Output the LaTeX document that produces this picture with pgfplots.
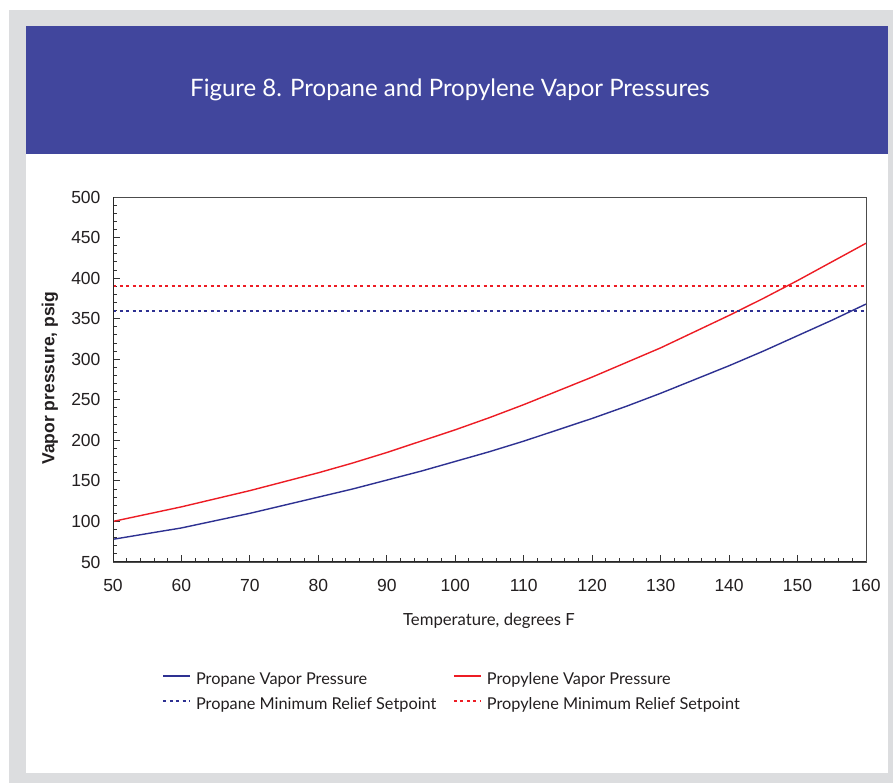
\documentclass[border=0pt]{standalone}
\usepackage{fontspec}
\usepackage{pgfplots}
\pgfplotsset{compat=1.18}
\setmainfont{Liberation Sans}
\newfontfamily\gill{Lato}
\definecolor{bgray}{HTML}{DCDDDF}
\definecolor{band}{HTML}{41469D}
\definecolor{navy}{HTML}{2E3192}
\definecolor{pred}{HTML}{ED1C24}
\definecolor{txt}{HTML}{231F20}
\begin{document}
\begin{tikzpicture}
\useasboundingbox (0,0) rectangle (893pt,-783pt);
\fill[white] (0,0) rectangle (893pt,-783pt);
\fill[bgray] (9pt,-10pt) rectangle (893pt,-783pt);
\fill[white] (26pt,-26pt) rectangle (888pt,-773pt);
\fill[band] (26pt,-26pt) rectangle (888pt,-154pt);
\node[text=white, font=\gill\fontsize{24}{28}\selectfont] at (450pt,-90pt) {Figure 8. Propane and Propylene Vapor Pressures};
\node[rotate=90, text=txt, font=\bfseries\fontsize{17.5}{20}\selectfont] at (50pt,-378pt) {Vapor pressure, psig};
\node[text=txt, font=\gill\fontsize{16.7}{20}\selectfont] at (489pt,-621pt) {Temperature, degrees F};
\begin{axis}[at={(113pt,-197pt)}, anchor=north west, scale only axis,
  width=753pt, height=365pt,
  xmin=50, xmax=160, ymin=50, ymax=500,
  xtick={50,60,...,160}, ytick={50,100,...,500},
  minor x tick num=4, minor y tick num=4,
  tick align=inside, xtick pos=bottom, ytick pos=left,
  major tick length=7pt, minor tick length=4pt,
  tick style={line width=1pt, color=black!80},
  axis line style={line width=0.8pt, color=black!70},
  /pgf/number format/assume math mode=true,
  ticklabel style={font=\fontsize{17.5}{20}\selectfont, text=txt},
  xticklabel style={yshift=-14pt}, yticklabel style={xshift=-9pt},
  legend columns=2,
  legend style={draw=none, fill=none, at={(rel axis cs:0,0)}, anchor=north west,
    xshift=49pt, yshift=-110pt, inner sep=0pt, row sep=9pt,
    nodes={inner sep=0pt, text height=12pt, text depth=4pt, font=\gill\fontsize{16.3}{20}\selectfont},
    /tikz/every even column/.style={column sep=0pt},
    /tikz/every odd column/.style={column sep=0pt}},
  legend cell align=left,
  legend image code/.code={\draw[#1, line width=1.7pt] (0pt,4.5pt) -- (27pt,4.5pt); \path (32pt,0pt);},
]
\addplot[color=navy, line width=1.4pt] coordinates {
(50,78) (55,85) (60,92) (65,101) (70,110) (75,120) (80,130) (85,140) (90,151) (95,162)
(100,174) (105,186) (110,199) (115,213) (120,227) (125,242) (130,258) (135,275) (140,292)
(145,310) (150,329) (155,348) (160,368)};
\addlegendentry{\textcolor{txt}{\makebox[257pt][l]{Propane Vapor Pressure}}}
\addplot[color=pred, line width=1.4pt] coordinates {
(50,100) (55,109) (60,118) (65,128) (70,138) (75,149) (80,160) (85,172) (90,185) (95,199)
(100,213) (105,228) (110,244) (115,261) (120,278) (125,296) (130,314) (135,334) (140,354)
(145,375) (150,397) (155,420) (160,443)};
\addlegendentry{\textcolor{txt}{Propylene Vapor Pressure}}
\addplot[color=navy, line width=2pt, dash pattern=on 3pt off 3.5pt] coordinates {(50,360) (160,360)};
\addlegendentry{\textcolor{txt}{\makebox[257pt][l]{Propane Minimum Relief Setpoint}}}
\addplot[color=pred, line width=2pt, dash pattern=on 3pt off 3.5pt] coordinates {(50,390) (160,390)};
\addlegendentry{\textcolor{txt}{Propylene Minimum Relief Setpoint}}
\draw[line width=1.5pt, black!85] (rel axis cs:0,1) -- (rel axis cs:0,0) -- (rel axis cs:1,0);
\end{axis}
\end{tikzpicture}
\end{document}
